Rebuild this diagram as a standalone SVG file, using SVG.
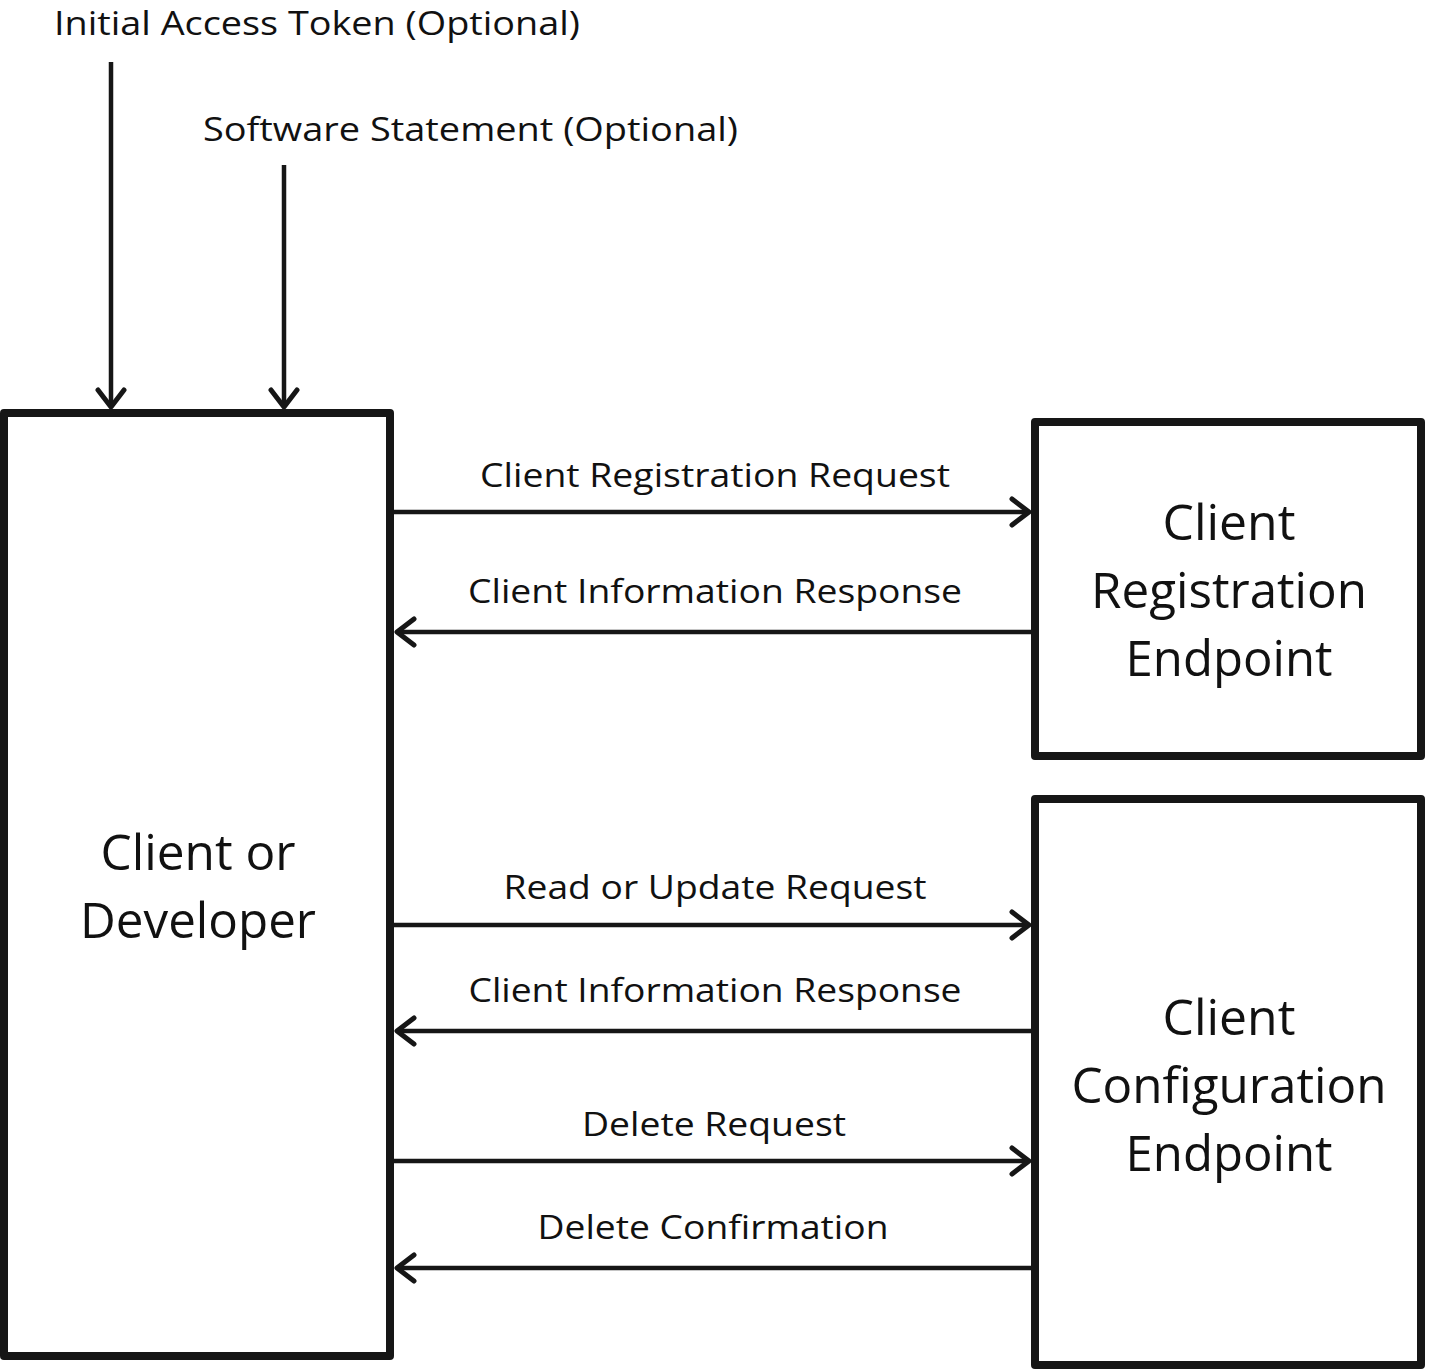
<svg xmlns="http://www.w3.org/2000/svg" width="1429" height="1371" viewBox="0 0 1429 1371">
<defs>
<style>
.box{fill:#fff;stroke:#161616;stroke-width:8;stroke-linejoin:round}
.line{stroke:#161616;stroke-width:4.5;fill:none}
.lbl{font-family:"Open Sans","Liberation Sans",sans-serif;font-size:33px;fill:#111;text-anchor:middle}
.big{font-family:"Open Sans","Liberation Sans",sans-serif;font-size:50px;fill:#111;text-anchor:middle}
.top{font-family:"Open Sans","Liberation Sans",sans-serif;font-size:33px;fill:#111}
</style>
<marker id="ah" viewBox="-20 -16 24 32" markerWidth="24" markerHeight="32" refX="0" refY="0" orient="auto" markerUnits="userSpaceOnUse">
<path d="M-17,-13 L0,0 L-17,13" fill="none" stroke="#161616" stroke-width="5" stroke-linecap="round" stroke-linejoin="round"/>
</marker>
</defs>
<rect width="1429" height="1371" fill="#fff"/>
<g id="connectors">
<line class="line" x1="111" y1="62" x2="111" y2="407" marker-end="url(#ah)"/>
<line class="line" x1="284" y1="165" x2="284" y2="407" marker-end="url(#ah)"/>
<line class="line" x1="394" y1="512" x2="1029" y2="512" marker-end="url(#ah)"/>
<line class="line" x1="1031" y1="632" x2="397" y2="632" marker-end="url(#ah)"/>
<line class="line" x1="394" y1="925" x2="1029" y2="925" marker-end="url(#ah)"/>
<line class="line" x1="1031" y1="1031" x2="397" y2="1031" marker-end="url(#ah)"/>
<line class="line" x1="394" y1="1161" x2="1029" y2="1161" marker-end="url(#ah)"/>
<line class="line" x1="1031" y1="1268" x2="397" y2="1268" marker-end="url(#ah)"/>
<text class="top" x="54" y="35" textLength="526" lengthAdjust="spacingAndGlyphs">Initial Access Token (Optional)</text>
<text class="top" x="203" y="141" textLength="535" lengthAdjust="spacingAndGlyphs">Software Statement (Optional)</text>
<text class="lbl" x="715" y="487" textLength="470" lengthAdjust="spacingAndGlyphs">Client Registration Request</text>
<text class="lbl" x="715" y="603" textLength="494" lengthAdjust="spacingAndGlyphs">Client Information Response</text>
<text class="lbl" x="715" y="899" textLength="423" lengthAdjust="spacingAndGlyphs">Read or Update Request</text>
<text class="lbl" x="715" y="1002" textLength="493" lengthAdjust="spacingAndGlyphs">Client Information Response</text>
<text class="lbl" x="714" y="1136" textLength="264" lengthAdjust="spacingAndGlyphs">Delete Request</text>
<text class="lbl" x="713" y="1239" textLength="351" lengthAdjust="spacingAndGlyphs">Delete Confirmation</text>
</g>
<g id="client">
<rect class="box" x="4" y="413" width="386" height="943"/>
<text class="big" x="198" y="870" textLength="195" lengthAdjust="spacingAndGlyphs">Client or</text>
<text class="big" x="198" y="938" textLength="236" lengthAdjust="spacingAndGlyphs">Developer</text>
</g>
<g id="registration">
<rect class="box" x="1035" y="422" width="386" height="334"/>
<text class="big" x="1229" y="540" textLength="133" lengthAdjust="spacingAndGlyphs">Client</text>
<text class="big" x="1229" y="608" textLength="276" lengthAdjust="spacingAndGlyphs">Registration</text>
<text class="big" x="1229" y="676" textLength="207" lengthAdjust="spacingAndGlyphs">Endpoint</text>
</g>
<g id="configuration">
<rect class="box" x="1035" y="799" width="386" height="566"/>
<text class="big" x="1229" y="1035" textLength="133" lengthAdjust="spacingAndGlyphs">Client</text>
<text class="big" x="1229" y="1103" textLength="315" lengthAdjust="spacingAndGlyphs">Configuration</text>
<text class="big" x="1229" y="1171" textLength="207" lengthAdjust="spacingAndGlyphs">Endpoint</text>
</g>
</svg>
